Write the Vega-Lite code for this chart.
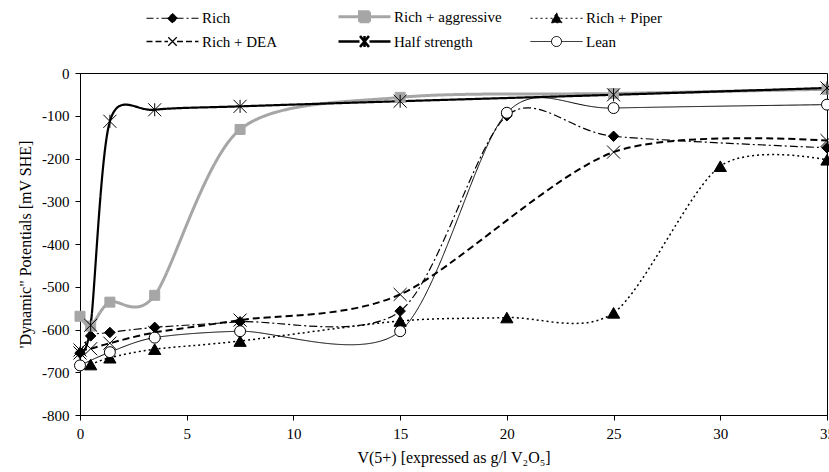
{
  "$schema": "https://vega.github.io/schema/vega-lite/v6.json",
  "width": 747,
  "height": 342,
  "autosize": {"type": "none"},
  "padding": {"left": 80, "top": 73, "right": 2, "bottom": 57},
  "background": "white",
  "config": {
    "font": "Liberation Serif",
    "view": {"stroke": "black", "strokeWidth": 1}
  },
  "data": {
    "values": [
      {"series": "Rich", "x": 0, "y": -655},
      {"series": "Rich", "x": 0.5, "y": -615},
      {"series": "Rich", "x": 1.4, "y": -607},
      {"series": "Rich", "x": 3.5, "y": -595},
      {"series": "Rich", "x": 7.5, "y": -582},
      {"series": "Rich", "x": 15, "y": -557},
      {"series": "Rich", "x": 20, "y": -100},
      {"series": "Rich", "x": 25, "y": -148},
      {"series": "Rich", "x": 35, "y": -175},
      {"series": "Rich + aggressive", "x": 0, "y": -569},
      {"series": "Rich + aggressive", "x": 0.5, "y": -592},
      {"series": "Rich + aggressive", "x": 1.4, "y": -536},
      {"series": "Rich + aggressive", "x": 3.5, "y": -520},
      {"series": "Rich + aggressive", "x": 7.5, "y": -132},
      {"series": "Rich + aggressive", "x": 15, "y": -57},
      {"series": "Rich + aggressive", "x": 25, "y": -48},
      {"series": "Rich + aggressive", "x": 35, "y": -38},
      {"series": "Rich + Piper", "x": 0.5, "y": -682},
      {"series": "Rich + Piper", "x": 1.4, "y": -666},
      {"series": "Rich + Piper", "x": 3.5, "y": -646},
      {"series": "Rich + Piper", "x": 7.5, "y": -627},
      {"series": "Rich + Piper", "x": 15, "y": -580},
      {"series": "Rich + Piper", "x": 20, "y": -572},
      {"series": "Rich + Piper", "x": 25, "y": -561},
      {"series": "Rich + Piper", "x": 30, "y": -218},
      {"series": "Rich + Piper", "x": 35, "y": -203},
      {"series": "Rich + DEA", "x": 0, "y": -648},
      {"series": "Rich + DEA", "x": 0.5, "y": -645},
      {"series": "Rich + DEA", "x": 1.4, "y": -632},
      {"series": "Rich + DEA", "x": 3.5, "y": -607},
      {"series": "Rich + DEA", "x": 7.5, "y": -578},
      {"series": "Rich + DEA", "x": 15, "y": -518},
      {"series": "Rich + DEA", "x": 25, "y": -185},
      {"series": "Rich + DEA", "x": 35, "y": -158},
      {"series": "Half strength", "x": 0, "y": -655},
      {"series": "Half strength", "x": 0.5, "y": -590},
      {"series": "Half strength", "x": 1.4, "y": -113},
      {"series": "Half strength", "x": 3.5, "y": -86},
      {"series": "Half strength", "x": 7.5, "y": -78},
      {"series": "Half strength", "x": 15, "y": -66},
      {"series": "Half strength", "x": 25, "y": -51},
      {"series": "Half strength", "x": 35, "y": -35},
      {"series": "Lean", "x": 0, "y": -684},
      {"series": "Lean", "x": 1.4, "y": -653},
      {"series": "Lean", "x": 3.5, "y": -619},
      {"series": "Lean", "x": 7.5, "y": -604},
      {"series": "Lean", "x": 15, "y": -604},
      {"series": "Lean", "x": 20, "y": -93},
      {"series": "Lean", "x": 25, "y": -82},
      {"series": "Lean", "x": 35, "y": -74}
    ]
  },
  "encoding": {
    "x": {
      "field": "x", "type": "quantitative",
      "scale": {"domain": [0, 35], "nice": false},
      "axis": {
        "values": [0, 5, 10, 15, 20, 25, 30, 35],
        "grid": false, "tickSize": 5, "domainColor": "black", "tickColor": "black",
        "labelFont": "Liberation Serif", "labelFontSize": 15, "labelColor": "black", "labelPadding": 6,
        "labelFlush": false,
        "title": "V(5+) [expressed as g/l V₂O₅]",
        "titleFont": "Liberation Serif", "titleFontSize": 16, "titleFontWeight": "normal", "titleColor": "black", "titlePadding": 8
      }
    },
    "y": {
      "field": "y", "type": "quantitative",
      "scale": {"domain": [-800, 0], "nice": false},
      "axis": {
        "values": [-800, -700, -600, -500, -400, -300, -200, -100, 0],
        "grid": false, "tickSize": 5, "domainColor": "black", "tickColor": "black",
        "labelFont": "Liberation Serif", "labelFontSize": 15, "labelColor": "black", "labelPadding": 6,
        "labelFlush": false,
        "labelExpr": "datum.value == 0 ? '0' : '-' + abs(datum.value)",
        "title": "'Dynamic\" Potentials [mV SHE]",
        "titleFont": "Liberation Serif", "titleFontSize": 16, "titleFontWeight": "normal", "titleColor": "black", "titlePadding": 8
      }
    }
  },
  "layer": [
    {
      "mark": {"type": "line", "interpolate": "cardinal", "tension": 0.15, "clip": true},
      "encoding": {
        "color": {
          "field": "series", "type": "nominal",
          "scale": {
            "domain": ["Rich", "Rich + aggressive", "Rich + Piper", "Rich + DEA", "Half strength", "Lean"],
            "range": ["black", "#a6a6a6", "black", "black", "black", "black"]
          },
          "legend": {
            "orient": "none", "legendX": 63, "legendY": -64,
            "direction": "horizontal", "columns": 3, "title": null,
            "gridAlign": "all", "columnPadding": 22, "rowPadding": 3,
            "labelFont": "Liberation Serif", "labelFontSize": 15, "labelColor": "black",
            "symbolSize": 100, "symbolOffset": 22, "labelOffset": 22,
            "encode": {
              "symbols": {
                "update": {
                  "shape": {"signal": "datum.value==='Rich' ? 'M-5.2,0H5.2M0,-1L1,0L0,1L-1,0Z' : datum.value==='Rich + aggressive' ? 'M-5.2,0H5.2M-1,-1H1V1H-1Z' : datum.value==='Rich + Piper' ? 'M-5.2,0H5.2M0,-1.1L1.1,0.9H-1.1Z' : datum.value==='Rich + DEA' ? 'M-5.2,0H-0.9M0.9,0H5.2M0,0L0.85,0.85M0,0L-0.85,0.85M0,0L0.85,-0.85M0,0L-0.85,-0.85' : datum.value==='Half strength' ? 'M-5.2,0H-1M1,0H5.2M0,0L0.9,1.1M0,0L-0.9,1.1M0,0L0.9,-1.1M0,0L-0.9,-1.1M0,-1.1V1.1' : 'M-5.2,0H-1M1,0H5.2M1,0A1,1,0,1,1,-1,0A1,1,0,1,1,1,0Z'"},
                  "fill": {"signal": "datum.value==='Rich' || datum.value==='Rich + Piper' ? 'black' : datum.value==='Rich + aggressive' ? '#a6a6a6' : datum.value==='Lean' ? 'white' : 'transparent'"},
                  "stroke": {"signal": "datum.value==='Rich + aggressive' ? '#a6a6a6' : 'black'"},
                  "strokeWidth": {"signal": "datum.value==='Rich + aggressive' ? 3 : datum.value==='Half strength' ? 2.5 : datum.value==='Rich + DEA' ? 1.3 : 1"},
                  "strokeDash": {"signal": "datum.value==='Rich' ? [7,3,2,3] : datum.value==='Rich + Piper' ? [2,3] : datum.value==='Rich + DEA' ? [6,3] : [1,0]"},
                  "opacity": {"value": 1}
                }
              }
            }
          }
        },
        "strokeDash": {
          "condition": [
            {"test": "datum.series==='Rich'", "value": [8, 3, 2, 3]},
            {"test": "datum.series==='Rich + Piper'", "value": [2, 3]},
            {"test": "datum.series==='Rich + DEA'", "value": [7, 4]}
          ],
          "value": [1, 0]
        },
        "strokeWidth": {
          "condition": [
            {"test": "datum.series==='Rich + aggressive'", "value": 3},
            {"test": "datum.series==='Half strength'", "value": 2.2},
            {"test": "datum.series==='Rich + DEA'", "value": 2},
            {"test": "datum.series==='Rich + Piper'", "value": 1.5},
            {"test": "datum.series==='Rich'", "value": 1.2}
          ],
          "value": 1
        }
      }
    },
    {
      "mark": {"type": "point", "filled": false, "opacity": 1, "clip": false},
      "encoding": {
        "shape": {
          "condition": [
            {"test": "datum.series==='Rich'", "value": "M0,-1L1,0L0,1L-1,0Z"},
            {"test": "datum.series==='Rich + aggressive'", "value": "square"},
            {"test": "datum.series==='Rich + Piper'", "value": "triangle-up"},
            {"test": "datum.series==='Rich + DEA'", "value": "M-1,-1L1,1M-1,1L1,-1"},
            {"test": "datum.series==='Half strength'", "value": "M-1,-1L1,1M-1,1L1,-1M0,-1L0,1"}
          ],
          "value": "circle"
        },
        "fill": {
          "condition": [
            {"test": "datum.series==='Rich' || datum.series==='Rich + Piper'", "value": "black"},
            {"test": "datum.series==='Rich + aggressive'", "value": "#a6a6a6"},
            {"test": "datum.series==='Lean'", "value": "white"}
          ],
          "value": "transparent"
        },
        "stroke": {
          "condition": {"test": "datum.series==='Rich + aggressive'", "value": "#a6a6a6"},
          "value": "black"
        },
        "strokeWidth": {"value": 1},
        "size": {
          "condition": [
            {"test": "datum.series==='Rich'", "value": 110},
            {"test": "datum.series==='Rich + aggressive'", "value": 100},
            {"test": "datum.series==='Rich + Piper'", "value": 150},
            {"test": "datum.series==='Lean'", "value": 120}
          ],
          "value": 170
        }
      }
    }
  ]
}
